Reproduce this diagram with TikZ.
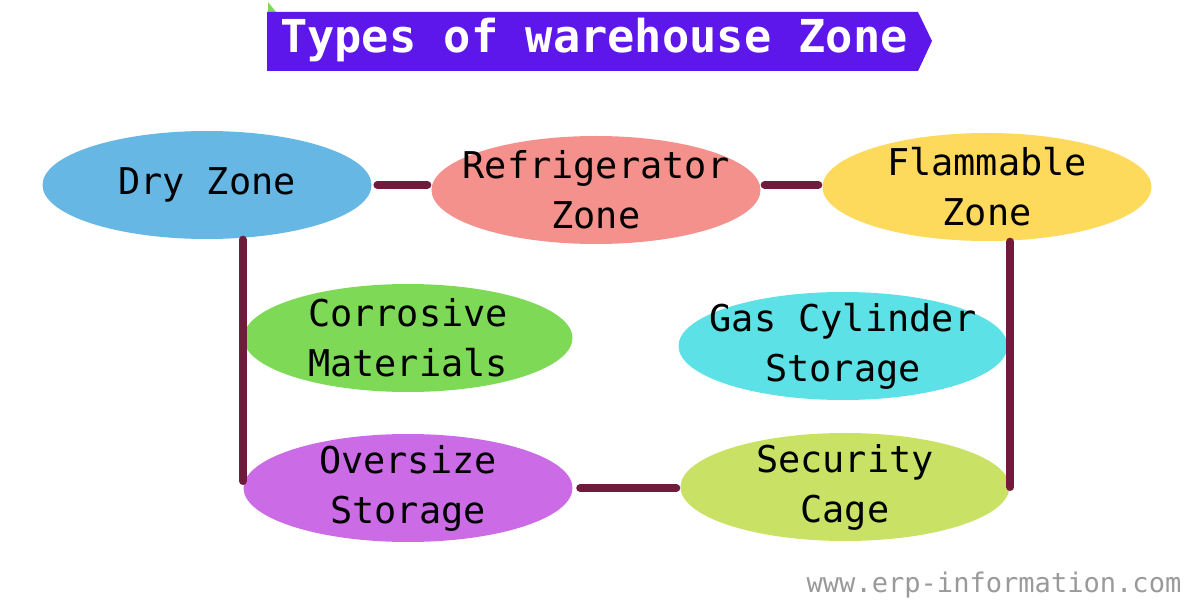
\documentclass[tikz,border=0pt]{standalone}
\usepackage{fontspec}
\setmonofont{DejaVu Sans Mono}
\usepackage{tikz}
\usetikzlibrary{positioning, shapes.geometric}

\definecolor{dryblue}{HTML}{66B7E3}
\definecolor{fridgered}{HTML}{F4918C}
\definecolor{flameyellow}{HTML}{FDD95C}
\definecolor{corrgreen}{HTML}{7ED957}
\definecolor{gascyan}{HTML}{5CE1E6}
\definecolor{overpurple}{HTML}{CB6CE6}
\definecolor{cagelime}{HTML}{C9E265}
\definecolor{linkmaroon}{HTML}{701A3C}
\definecolor{bannerviolet}{HTML}{5E17EB}
\definecolor{markgray}{HTML}{9A9A9A}

\begin{document}
\begin{tikzpicture}[
  font=\ttfamily,
  zone/.style={ellipse, minimum width=3.29cm, minimum height=1.08cm,
    inner sep=-10pt, align=center, font=\ttfamily\fontsize{10.5}{14.2}\selectfont},
  dry/.style={zone, fill=dryblue},
  fridge/.style={zone, fill=fridgered},
  flame/.style={zone, fill=flameyellow},
  corr/.style={zone, fill=corrgreen},
  gas/.style={zone, fill=gascyan},
  over/.style={zone, fill=overpurple},
  cage/.style={zone, fill=cagelime},
  link/.style={linkmaroon, line width=2.3pt, line cap=round},
  title/.style={text=white, font=\ttfamily\bfseries\fontsize{12.9}{16}\selectfont},
  sitemark/.style={text=markgray, font=\ttfamily\fontsize{7.7}{9}\selectfont},
]
  \useasboundingbox (0,0) rectangle (12,6);

  % Title banner
  \fill[corrgreen] (2.68,5.98) -- (2.68,5.88) -- (2.76,5.88) -- cycle;
  \fill[bannerviolet] (2.67,5.88) -- (9.18,5.88) -- (9.32,5.59) -- (9.18,5.29)
    -- (2.67,5.29) -- cycle;
  \node[title] (head) at (5.94,5.60) {Types of warehouse Zone};

  % Zones
  \node[dry]    (dry)    at (2.07,4.15) {Dry Zone};
  \node[fridge] (fridge) at (5.96,4.10) {Refrigerator\\Zone};
  \node[flame]  (flame)  at (9.87,4.13) {Flammable\\Zone};
  \node[corr]   (corr)   at (4.08,2.62) {Corrosive\\Materials};
  \node[gas]    (gas)    at (8.43,2.54) {Gas Cylinder\\Storage};
  \node[over]   (over)   at (4.08,1.12) {Oversize\\Storage};
  \node[cage]   (cage)   at (8.45,1.13) {Security\\Cage};

  % Links
  \draw[link] ([xshift=1.5pt]dry.east) -- ([xshift=-1pt]dry.east -| fridge.west);
  \draw[link] ([xshift=1pt]fridge.east |- dry.east) -- ([xshift=-1pt]flame.west |- dry.east);
  \draw[link] (dry.south -| over.west) -- ([yshift=2pt]over.west);
  \draw[link] (flame.south -| cage.east) -- (cage.east);
  \draw[link] ([xshift=2pt]over.east) -- ([xshift=-1pt]cage.west |- over.east);

  % Watermark
  \node[sitemark] (site) at (9.94,0.15) {www.erp-information.com};
\end{tikzpicture}
\end{document}
